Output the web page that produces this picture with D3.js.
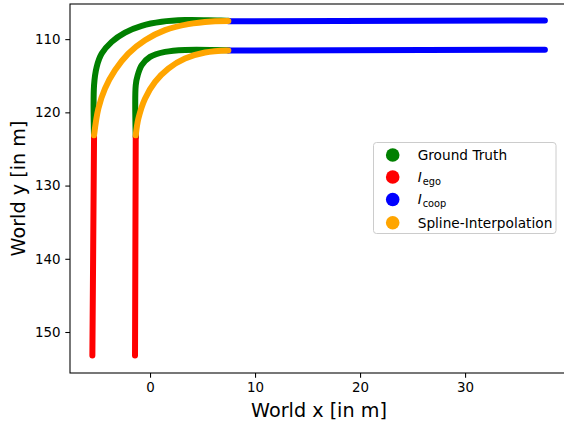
<!DOCTYPE html>
<html><head><meta charset="utf-8">
<script src="https://cdn.jsdelivr.net/npm/d3@7"></script>
<style>body{margin:0;background:#fff}svg{display:block;font-family:"DejaVu Sans",sans-serif}</style>
</head><body>
<svg id="c" width="564" height="426"></svg>
<script>
// ---- data (world coordinates, metres) ----
const xTicks = [0, 10, 20, 30];
const yTicks = [110, 120, 130, 140, 150];
// Ground truth curves (lane 1 outer, lane 2 inner)
const gt1X = [-5.33, -5.33, -5.08, -4.60, -3.65, -2.38, -0.79, 1.11, 3.33, 5.55, 7.46];
const gt1Y = [123.37, 116.29, 113.79, 111.97, 110.37, 109.10, 108.18, 107.63, 107.40, 107.42, 107.5];
const gt2X = [-1.36, -1.36, -1.17, -0.79, 0.0, 1.43, 3.33, 7.46];
const gt2Y = [123.37, 116.29, 114.92, 113.56, 112.42, 111.74, 111.47, 111.52];
// I_ego (red)
const ego1X = [-5.49, -5.33];
const ego1Y = [153.2, 123.3];
const ego2X = [-1.43, -1.36];
const ego2Y = [153.2, 123.3];
// I_coop (blue)
const coop1X = [7.46, 37.6];
const coop1Y = [107.55, 107.45];
const coop2X = [7.46, 37.6];
const coop2Y = [111.56, 111.45];
// Spline interpolation (orange)
const sp1X = [-5.33, -4.92, -4.29, -3.33, -2.07, -0.48, 1.43, 3.65, 5.87, 7.46];
const sp1Y = [123.13, 119.49, 116.76, 114.24, 111.97, 110.14, 108.77, 107.95, 107.58, 107.52];
const sp2X = [-1.36, -1.11, -0.48, 0.48, 1.74, 3.33, 5.24, 7.46];
const sp2Y = [123.13, 120.86, 118.13, 115.84, 114.02, 112.65, 111.83, 111.55];

const legendLabels = ["Ground Truth", "I_ego", "I_coop", "Spline-Interpolation"];
const colors = ["green", "red", "blue", "orange"];

// ---- layout ----
const svg = d3.select("#c");
const L = 70, R = 568, T = 4, B = 373;
const x = d3.scaleLinear().domain([-7.62, 39.8]).range([L, R]);
const y = d3.scaleLinear().domain([105.2, 155.6]).range([T, B]);

const zip = (xs, ys) => xs.map((v, i) => [v, ys[i]]);
const line = d3.line().x(d => x(d[0])).y(d => y(d[1])).curve(d3.curveCatmullRom.alpha(0.5));
const straight = d3.line().x(d => x(d[0])).y(d => y(d[1]));

const series = [
  {pts: zip(gt1X, gt1Y), c: colors[0], f: line},
  {pts: zip(gt2X, gt2Y), c: colors[0], f: line},
  {pts: zip(ego1X, ego1Y), c: colors[1], f: straight},
  {pts: zip(ego2X, ego2Y), c: colors[1], f: straight},
  {pts: zip(coop1X, coop1Y), c: colors[2], f: straight},
  {pts: zip(coop2X, coop2Y), c: colors[2], f: straight},
  {pts: zip(sp1X, sp1Y), c: colors[3], f: line},
  {pts: zip(sp2X, sp2Y), c: colors[3], f: line},
];
const plot = svg.append("g");
series.forEach(s => {
  plot.append("path").attr("d", s.f(s.pts)).attr("fill", "none")
    .attr("stroke", s.c).attr("stroke-width", 6).attr("stroke-linecap", "round").attr("stroke-linejoin", "round");
});

// ---- axes ----
const fs = 13.4;
const xAxis = svg.append("g").attr("transform", `translate(0,${B})`)
  .call(d3.axisBottom(x).tickValues(xTicks).tickSize(4.7).tickPadding(4.7).tickFormat(d3.format("d")));
const yAxis = svg.append("g").attr("transform", `translate(${L},0)`)
  .call(d3.axisLeft(y).tickValues(yTicks).tickSize(4.7).tickPadding(4.7).tickFormat(d3.format("d")));
[xAxis, yAxis].forEach(g => {
  g.select(".domain").remove();
  g.selectAll(".tick line").attr("stroke", "#000").attr("stroke-width", 1.07);
  g.selectAll(".tick text").attr("font-size", fs).attr("font-family", "DejaVu Sans").attr("fill", "#000");
});
// spines
svg.append("rect").attr("x", L).attr("y", T).attr("width", R - L).attr("height", B - T)
  .attr("fill", "none").attr("stroke", "#000").attr("stroke-width", 1.07);

svg.append("text").attr("x", (L + R) / 2).attr("y", 416.5).attr("text-anchor", "middle")
  .attr("font-size", 19.2).text("World x [in m]");
svg.append("text").attr("transform", `translate(24.5,${(T + B) / 2}) rotate(-90)`).attr("text-anchor", "middle")
  .attr("font-size", 19.2).text("World y [in m]");

// ---- legend ----
const lg = svg.append("g");
lg.append("rect").attr("x", 373.5).attr("y", 142.5).attr("width", 182.5).attr("height", 91).attr("rx", 3)
  .attr("fill", "#fff").attr("fill-opacity", 0.8).attr("stroke", "#ccc").attr("stroke-width", 1);
const rowY = [155, 177, 199.5, 222.7];
legendLabels.forEach((lab, i) => {
  lg.append("circle").attr("cx", 392.7).attr("cy", rowY[i]).attr("r", 6.8).attr("fill", colors[i]);
  const t = lg.append("text").attr("x", 417.7).attr("y", rowY[i] + 4.9).attr("font-size", 13.7);
  if (lab.includes("_")) {
    const [a, b] = lab.split("_");
    t.append("tspan").attr("font-style", "italic").text(a);
    t.append("tspan").attr("dx", 1).attr("dy", 2.8).attr("font-size", 9.8).text(b);
  } else t.text(lab);
});
</script>
</body></html>
